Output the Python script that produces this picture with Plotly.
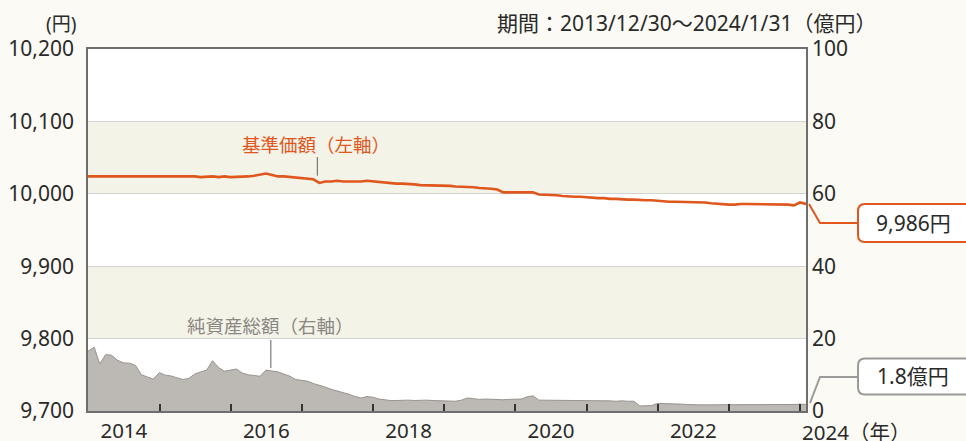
import pandas as pd
import plotly.graph_objects as go

# ---- data -------------------------------------------------------------
START_DATE = "2013-12-30"
END_DATE = "2024-01-31"
MONTH_ENDS = [d.strftime("%Y-%m-%d") for d in pd.date_range("2014-01-31", "2023-12-31", freq="ME")]
DATES = [START_DATE] + MONTH_ENDS + [END_DATE]

# 基準価額 (円), month-end readings
NAV = (
    [10024]
    + [10024, 10025, 10024, 10024, 10025, 10024, 10024, 10025, 10024, 10024, 10024, 10024]  # 2014
    + [10024, 10024, 10025, 10024, 10024, 10024, 10023, 10024, 10024, 10023, 10024, 10023]  # 2015
    + [10023, 10023, 10024, 10025, 10027, 10028, 10026, 10024, 10024, 10023, 10022, 10021]  # 2016
    + [10021, 10020, 10015, 10017, 10017, 10018, 10017, 10017, 10016, 10017, 10018, 10017]  # 2017
    + [10016, 10015, 10015, 10014, 10014, 10013, 10013, 10012, 10012, 10012, 10011, 10011]  # 2018
    + [10011, 10010, 10010, 10009, 10009, 10008, 10008, 10007, 10006, 10002, 10002, 10002]  # 2019
    + [10002, 10002, 10002, 9999, 9999, 9998, 9998, 9997, 9996, 9996, 9996, 9995]  # 2020
    + [9995, 9994, 9994, 9993, 9993, 9992, 9992, 9992, 9991, 9991, 9991, 9990]  # 2021
    + [9990, 9989, 9989, 9989, 9988, 9988, 9988, 9988, 9987, 9986, 9985, 9985]  # 2022
    + [9985, 9986, 9986, 9986, 9986, 9986, 9985, 9985, 9985, 9985, 9984, 9988]  # 2023
    + [9986]
)

# 純資産総額 (億円), month-end readings
NET_ASSETS = (
    [16.5]
    + [17.6, 13.0, 15.6, 15.4, 14.0, 13.3, 13.2, 12.6, 10.0, 9.4, 8.8, 10.6]  # 2014
    + [9.9, 9.7, 9.2, 8.7, 9.0, 10.2, 10.8, 11.3, 13.9, 12.0, 11.0, 11.3]  # 2015
    + [11.6, 10.5, 10.0, 9.8, 9.6, 11.3, 11.0, 10.8, 10.2, 9.6, 8.7, 8.5]  # 2016
    + [8.2, 7.6, 7.2, 6.6, 6.0, 5.6, 5.0, 4.6, 4.0, 3.6, 4.0, 3.8]  # 2017
    + [3.3, 3.1, 2.9, 2.9, 3.0, 3.0, 2.9, 3.0, 3.0, 2.9, 2.8, 2.7]  # 2018
    + [2.6, 2.7, 3.0, 3.6, 3.4, 3.2, 3.3, 3.2, 3.1, 3.1, 3.2, 3.2]  # 2019
    + [3.3, 3.9, 4.2, 3.0, 3.0, 3.0, 3.0, 3.0, 2.9, 2.9, 2.9, 2.8]  # 2020
    + [2.8, 2.8, 2.8, 2.8, 2.7, 2.8, 2.7, 2.7, 1.4, 1.4, 1.5, 2.1]  # 2021
    + [2.1, 2.1, 2.0, 1.9, 1.8, 1.7, 1.7, 1.7, 1.7, 1.6, 1.6, 1.6]  # 2022
    + [1.6, 1.6, 1.6, 1.6, 1.6, 1.7, 1.7, 1.7, 1.7, 1.8, 1.8, 1.9]  # 2023
    + [1.8]
)

LEFT_TICKS = [9700, 9800, 9900, 10000, 10100, 10200]
RIGHT_TICKS = [0, 20, 40, 60, 80, 100]
YEAR_LABELS = ["2014", "2016", "2018", "2020", "2022"]
YEAR_TICKS = ["2015-01-01", "2016-01-01", "2017-01-01", "2018-01-01", "2019-01-01",
              "2020-01-01", "2021-01-01", "2022-01-01", "2023-01-01", "2024-01-01"]
SHADED_BANDS = [(10000, 10100), (9800, 9900)]

# ---- style ------------------------------------------------------------
FONT = "Noto Sans, Noto Sans CJK JP, sans-serif"
ORANGE = "#e0571d"
GRAY_TXT = "#8a8784"
AREA_FILL = "#bcb8b3"
AREA_LINE = "#98948f"
FRAME = "#6e6e6e"
TXT = "#2a2a2a"
PAGE_BG = "#fbfaf4"
BAND = "#f4f3e7"

left_min, left_max = LEFT_TICKS[0], LEFT_TICKS[-1]
right_min, right_max = RIGHT_TICKS[0], RIGHT_TICKS[-1]

fig = go.Figure()

fig.add_trace(go.Scatter(
    x=DATES, y=NET_ASSETS, yaxis="y2", mode="lines",
    line=dict(color=AREA_LINE, width=1), fill="tozeroy", fillcolor=AREA_FILL,
    hoverinfo="skip", showlegend=False,
))
fig.add_trace(go.Scatter(
    x=DATES, y=NAV, yaxis="y", mode="lines",
    line=dict(color=ORANGE, width=2.6), hoverinfo="skip", showlegend=False,
))

shapes = []
for lo, hi in SHADED_BANDS:
    shapes.append(dict(type="rect", xref="paper", yref="y", x0=0, x1=1, y0=lo, y1=hi,
                       fillcolor=BAND, line=dict(width=0), layer="below"))

# leader lines for the series labels
shapes.append(dict(type="line", xref="x", yref="y", x0="2017-03-21", x1="2017-03-21",
                   y0=10025, y1=10051, line=dict(color="#7a7a7a", width=1.2)))
shapes.append(dict(type="line", xref="x", yref="y2", x0="2016-07-25", x1="2016-07-25",
                   y0=11.9, y1=19.6, line=dict(color="#7a7a7a", width=1.2)))


def callout(anchor_y, path_pts, box_top, box_bottom, color):
    """Elbow connector plus a box open to the right, in pixel offsets from the plot's right edge."""
    line_path = "M " + " L ".join(f"{x},{y}" for x, y in path_pts)
    x0, x1, r = 52, 175, 7
    box_path = (f"M {x0 + r},{box_top} L {x1},{box_top} L {x1},{box_bottom} L {x0 + r},{box_bottom} "
                f"Q {x0},{box_bottom} {x0},{box_bottom + r} L {x0},{box_top - r} "
                f"Q {x0},{box_top} {x0 + r},{box_top} Z")
    common = dict(xref="paper", yref="paper", xsizemode="pixel", ysizemode="pixel",
                  xanchor=1, yanchor=anchor_y, layer="above")
    return [
        dict(type="path", path=line_path, line=dict(color=color, width=2), **common),
        dict(type="path", path=box_path, fillcolor="white", line=dict(color=color, width=2), **common),
    ]


nav_anchor = (NAV[-1] - left_min) / (left_max - left_min)
na_anchor = (NET_ASSETS[-1] - right_min) / (right_max - right_min)
shapes += callout(nav_anchor, [(3, 0), (14, -19), (52, -19)], 0, -38, ORANGE)
shapes += callout(na_anchor, [(4, 1.5), (14, 27.5), (52, 27.5)], 46, 10, "#9a9a9a")

annotations = [
    dict(text=f"{NAV[-1]:,}円", xref="paper", yref="paper", x=1, y=nav_anchor,
         xshift=107, yshift=-19, xanchor="center", yanchor="middle", showarrow=False,
         font=dict(size=21, color=TXT, family=FONT)),
    dict(text=f"{NET_ASSETS[-1]:.1f}億円", xref="paper", yref="paper", x=1, y=na_anchor,
         xshift=107, yshift=28, xanchor="center", yanchor="middle", showarrow=False,
         font=dict(size=21, color=TXT, family=FONT)),
    dict(text="基準価額（左軸）", xref="x", yref="y", x="2017-03-12", y=10068,
         xanchor="center", yanchor="middle", showarrow=False,
         font=dict(size=18.5, color=ORANGE, family=FONT)),
    dict(text="純資産総額（右軸）", xref="x", yref="y2", x="2016-07-25", y=23.5,
         xanchor="center", yanchor="middle", showarrow=False,
         font=dict(size=18.5, color=GRAY_TXT, family=FONT)),
    dict(text="(円)", xref="paper", yref="paper", x=0, y=1, xshift=-10, yshift=25,
         xanchor="right", yanchor="middle", showarrow=False,
         font=dict(size=19, color=TXT, family=FONT)),
    dict(text="期間：2013/12/30～2024/1/31（億円）", xref="paper", yref="paper", x=1, y=1,
         xshift=72, yshift=26, xanchor="right", yanchor="middle", showarrow=False,
         font=dict(size=21, color=TXT, family=FONT)),
    dict(text="2024（年）", xref="paper", yref="paper", x=1, y=0, xshift=-6, yshift=-21,
         xanchor="left", yanchor="middle", showarrow=False,
         font=dict(size=20.5, color=TXT, family=FONT)),
]

year_mid = [f"{y}-07-02" for y in YEAR_LABELS]

fig.update_layout(
    width=966, height=441,
    margin=dict(l=88, r=160, t=49, b=30),
    paper_bgcolor=PAGE_BG, plot_bgcolor="white",
    font=dict(family=FONT, color=TXT, size=21),
    shapes=shapes, annotations=annotations,
    xaxis=dict(
        type="date", range=[START_DATE, END_DATE], automargin=False,
        tickmode="array", tickvals=year_mid, ticktext=YEAR_LABELS, ticks="",
        ticklabelstandoff=1,
        minor=dict(tickmode="array", tickvals=YEAR_TICKS, ticks="inside", ticklen=7,
                   tickwidth=1.5, tickcolor="#333333", showgrid=False),
        showgrid=False, showline=True, linecolor=FRAME, linewidth=1.5, mirror=True,
        tickfont=dict(size=20.5, color=TXT),
    ),
    yaxis=dict(
        range=[left_min, left_max], tickmode="array", tickvals=LEFT_TICKS, automargin=False,
        tickformat=",d", ticks="", ticklabelstandoff=8,
        showgrid=True, gridcolor="#d3d3d3", gridwidth=1,
        showline=True, linecolor=FRAME, linewidth=1.5, mirror=True,
        zeroline=False, tickfont=dict(size=21, color=TXT),
    ),
    yaxis2=dict(
        overlaying="y", side="right", range=[right_min, right_max], automargin=False,
        tickmode="array", tickvals=RIGHT_TICKS, ticks="", ticklabelstandoff=5,
        showgrid=False, showline=False, zeroline=False,
        tickfont=dict(size=21, color=TXT),
    ),
)

fig.write_html("out.html")
